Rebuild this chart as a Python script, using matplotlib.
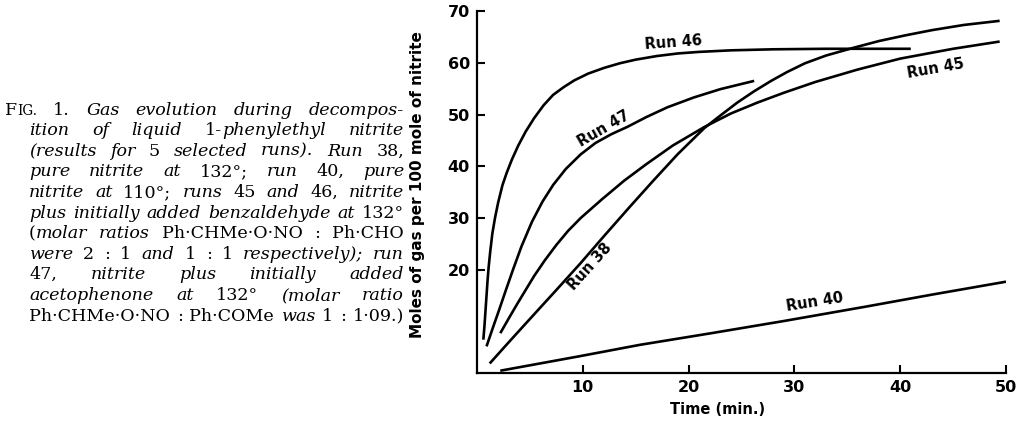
import matplotlib
matplotlib.use("Agg")
import matplotlib.pyplot as plt
from matplotlib.transforms import IdentityTransform

# curves: time (min.) and moles of gas per 100 mole of nitrite
run46_t = [0.6, 0.7, 0.8, 0.9, 1.0, 1.1, 1.25, 1.45, 1.7, 2.0, 2.4, 2.8, 3.3, 3.9, 4.6, 5.4,
           6.3, 7.2, 8.2, 9.2, 10.5, 12, 13.5, 15, 17, 19, 21, 24, 28, 33, 41]
run46_y = [6.5, 9, 12, 15, 18, 20.5, 23.5, 27, 30, 33, 36.3, 38.7, 41.3, 44, 46.7, 49.3,
           51.8, 53.8, 55.3, 56.6, 57.9, 59.0, 59.9, 60.6, 61.3, 61.8, 62.1, 62.4, 62.6, 62.7, 62.7]

run47_t = [0.9, 1.5, 2.1, 2.7, 3.4, 4.2, 5.2, 6.2, 7.2, 8.4, 9.8, 11.2, 12.7, 14.2, 16, 18,
           20.5, 23, 26.2]
run47_y = [5.2, 8.8, 12.3, 15.9, 20, 24.5, 29.3, 33.2, 36.4, 39.5, 42.3, 44.5, 46.2, 47.6, 49.5, 51.4,
           53.3, 54.9, 56.5]

run45_t = [2.2, 3.0, 3.8, 4.6, 5.4, 6.4, 7.5, 8.6, 9.8, 11.8, 13.9, 16, 18.5, 21.5, 24, 26.5,
           29, 32, 36, 40, 45, 49.4]
run45_y = [7.75, 10.6, 13.4, 16.1, 18.8, 21.8, 24.8, 27.5, 30.0, 33.6, 37.2, 40.4, 44, 47.6, 50.2, 52.3,
           54.2, 56.3, 58.7, 60.8, 62.7, 64.1]

run38_t = [1.2, 3, 5, 7.5, 9.8, 12, 14.5, 16.7, 19, 21.5, 23, 24.6, 26.2, 27.8, 29.3, 31,
           33, 35.6, 38, 40.5, 43, 46, 49.4]
run38_y = [1.9, 6, 10.5, 16.1, 21.3, 26.5, 32.3, 37.3, 42.4, 47.4, 49.8, 52.3, 54.5, 56.5, 58.2, 59.9,
           61.4, 62.9, 64.2, 65.3, 66.3, 67.3, 68.1]

run40_t = [2.2, 9.7, 15.4, 22, 29, 36.8, 43, 50]
run40_y = [0.5, 3.3, 5.5, 7.7, 10.1, 12.9, 15.2, 17.7]

# run labels: text, x, y, rotation
labels = [("Run 46", 18.6, 63.9, 4),
          ("Run 47", 12.0, 47.3, 30),
          ("Run 38", 10.7, 20.6, 48),
          ("Run 45", 43.3, 58.9, 10),
          ("Run 40", 31.9, 13.8, 9)]

xticks = [10, 20, 30, 40, 50]
yticks = [20, 30, 40, 50, 60, 70]

# caption: {...} upright, <...> small capitals, rest italic
caption = [
    "{F}<IG.> {1.} Gas evolution during decompos-",
    "ition of liquid {1-}phenylethyl nitrite",
    "(results for {5} selected runs). Run {38,}",
    "pure nitrite at {132°;} run {40,} pure",
    "nitrite at {110°;} runs {45} and {46,} nitrite",
    "plus initially added benzaldehyde at {132°}",
    "{(}molar ratios {Ph·CHMe·O·NO : Ph·CHO}",
    "were {2 : 1} and {1 : 1} respectively); run",
    "{47,} nitrite plus initially added",
    "acetophenone at {132°} (molar ratio",
    "{Ph·CHMe·O·NO : Ph·COMe} was {1 : 1·09.)}",
]

W, H = 1016, 423
fig = plt.figure(figsize=(W / 100, H / 100), dpi=100)
ax = fig.add_axes([477 / W, (H - 373.3) / H, 529 / W, 362.3 / H])

sans = dict(family="DejaVu Sans", fontweight="bold")
for t, y in [(run46_t, run46_y), (run47_t, run47_y), (run45_t, run45_y),
             (run38_t, run38_y), (run40_t, run40_y)]:
    ax.plot(t, y, color="black", lw=1.9, solid_capstyle="butt", solid_joinstyle="round")

for s, x, y, r in labels:
    ax.text(x, y, s, rotation=r, ha="center", va="center", fontsize=10.5,
            rotation_mode="anchor", **sans)

ax.set_xlim(0, 50)
ax.set_ylim(0, 70)
ax.set_xticks(xticks)
ax.set_yticks(yticks)
ax.set_xticklabels([str(v) for v in xticks], **sans)
ax.set_yticklabels([str(v) for v in yticks], **sans)
ax.tick_params(direction="in", length=6, width=1.5, labelsize=11.5, pad=5)
for s in ["top", "right"]:
    ax.spines[s].set_visible(False)
for s in ["left", "bottom"]:
    ax.spines[s].set_linewidth(1.6)

ax.set_ylabel("Moles of gas per 100 mole of nitrite", fontsize=11, **sans)
ax.yaxis.set_label_coords((425 - 477) / 529, 0.52)
ax.set_xlabel("Time (min.)", fontsize=10.5, va="center", **sans)
ax.xaxis.set_label_coords((718 - 477) / 529, -0.101)


def parse(line):
    # words split on spaces; each word is a list of (text, mode) pieces
    words, cur, seg, mode = [], [], "", "i"
    for ch in line + " ":
        if ch in "{}<> ":
            if seg:
                cur.append((seg, mode))
                seg = ""
            if ch == " ":
                if cur:
                    words.append(cur)
                cur = []
            else:
                mode = {"{": "r", "<": "s"}.get(ch, "i")
        else:
            seg += ch
    return words


renderer = fig.canvas.get_renderer()
size = 12.6
right = 404
for i, line in enumerate(caption):
    left = 5 if i == 0 else 29
    base = H - (109.5 + 20.6 * i + 5)
    arts = []
    for w in parse(line):
        parts = []
        for s, mode in w:
            t = fig.text(0, base, s, transform=IdentityTransform(),
                         fontsize=size * (0.78 if mode == "s" else 1),
                         family="DejaVu Serif", style="italic" if mode == "i" else "normal",
                         va="baseline", ha="left")
            parts.append((t, t.get_window_extent(renderer).width))
        arts.append(parts)
    widths = [sum(p[1] for p in parts) for parts in arts]
    gap = (right - left - sum(widths)) / max(len(arts) - 1, 1)
    x = left
    for parts, wd in zip(arts, widths):
        xx = x
        for t, pw in parts:
            t.set_x(xx)
            xx += pw
        x += wd + gap

fig.savefig("out.png", dpi=100)
